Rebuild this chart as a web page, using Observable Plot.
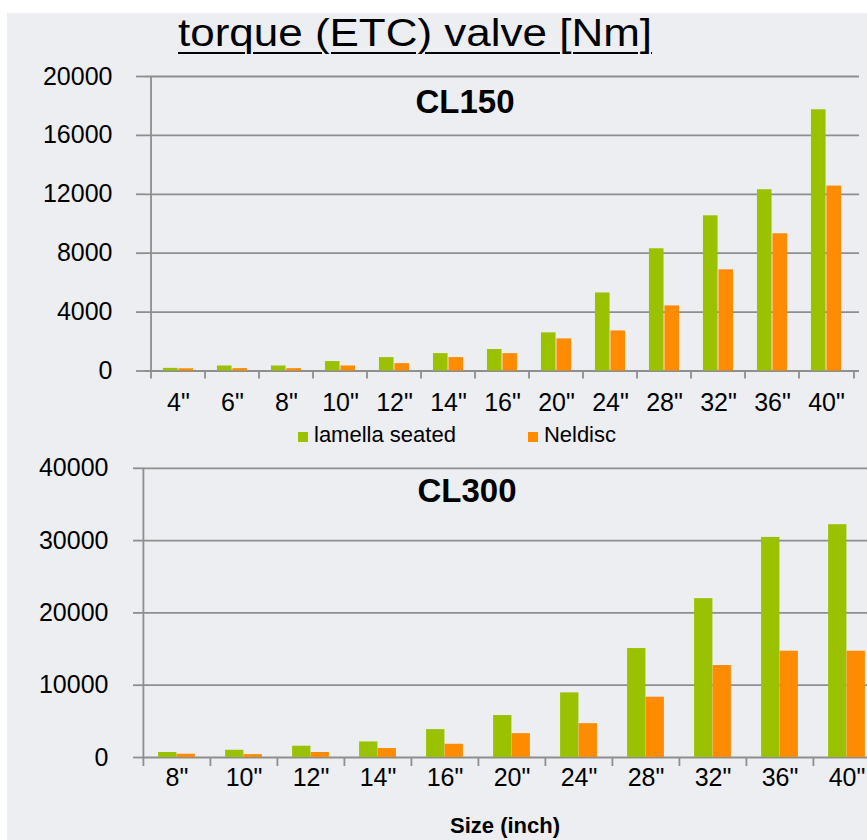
<!DOCTYPE html>
<html>
<head>
<meta charset="utf-8">
<script src="https://cdn.jsdelivr.net/npm/d3@7"></script>
<script src="https://cdn.jsdelivr.net/npm/@observablehq/plot@0.6"></script>
<style>
html, body { margin: 0; padding: 0; background: #fff; overflow: hidden; }
#wrap { position: relative; width: 867px; height: 840px; overflow: hidden; font-family: "Liberation Sans", Arial, sans-serif; color: #000; }
#panel { position: absolute; left: 7px; top: 13px; right: 0; bottom: 0; background: #eceef1; }
.abs { position: absolute; white-space: nowrap; }
#title { left: 178px; top: 14px; font-size: 38px; line-height: 38px; text-decoration: underline; text-decoration-thickness: 2px; text-underline-offset: 6px; transform: scaleX(1.157); transform-origin: 0 0; }
.sub { font-size: 33px; line-height: 33px; font-weight: bold; transform: translateX(-50%); }
#xlabel { left: 505px; top: 815px; font-size: 22px; line-height: 22px; font-weight: bold; transform: translateX(-50%); }
#legend { left: 298px; top: 424px; font-size: 22px; line-height: 22px; display: flex; align-items: baseline; }
.sw { display: inline-block; width: 10px; height: 10px; margin-right: 6px; }
#top, #bottom { position: absolute; left: 0; }
</style>
</head>
<body>
<div id="wrap">
  <div id="panel"></div>
  <div id="top"></div>
  <div id="bottom"></div>
  <div id="title" class="abs">torque (ETC) valve [Nm]</div>
  <div id="sub150" class="abs sub" style="left:465px;top:85px;">CL150</div>
  <div id="sub300" class="abs sub" style="left:467px;top:474px;">CL300</div>
  <div id="legend" class="abs"></div>
  <div id="xlabel" class="abs">Size (inch)</div>
</div>
<script>
// ---- data ----
const seriesNames = ["lamella seated", "Neldisc"];
const seriesColors = ["#9ac200", "#ff8c00"];

const sizes150 = ['4"', '6"', '8"', '10"', '12"', '14"', '16"', '20"', '24"', '28"', '32"', '36"', '40"'];
const lamella150 = [180, 340, 340, 640, 910, 1180, 1460, 2590, 5300, 8300, 10540, 12310, 17740];
const neldisc150 = [150, 160, 160, 340, 500, 910, 1180, 2180, 2720, 4420, 6870, 9320, 12560];
const yTicks150 = [0, 4000, 8000, 12000, 16000, 20000];

const sizes300 = ['8"', '10"', '12"', '14"', '16"', '20"', '24"', '28"', '32"', '36"', '40"'];
const lamella300 = [690, 1000, 1560, 2150, 3860, 5800, 8940, 15070, 21970, 30440, 32200];
const neldisc300 = [450, 400, 690, 1240, 1830, 3300, 4680, 8340, 12720, 14700, 14700];
const yTicks300 = [0, 10000, 20000, 30000, 40000];

const gridColor = "#8e8e8e";

function makeChart(o) {
  const rows = [];
  o.sizes.forEach((s, i) => {
    rows.push({size: s, series: seriesNames[0], value: o.lam[i]});
    rows.push({size: s, series: seriesNames[1], value: o.nel[i]});
  });
  const step = (o.width - o.marginLeft - o.marginRight) / o.sizes.length;
  const inner = (step - 2 * o.barW) / 2;
  const yMax = o.yTicks[o.yTicks.length - 1];
  return Plot.plot({
    width: o.width,
    height: o.height,
    marginLeft: o.marginLeft,
    marginRight: o.marginRight,
    marginTop: o.marginTop,
    marginBottom: o.marginBottom,
    style: {background: "transparent", maxWidth: "none", fontFamily: "Liberation Sans, Arial, sans-serif", fontSize: "25px", color: "#000", overflow: "visible"},
    x: {domain: o.sizes, padding: 0, label: null},
    y: {domain: [0, yMax], label: null},
    marks: [
      Plot.gridY(o.yTicks, {stroke: gridColor, strokeOpacity: 1, strokeWidth: 1.8}),
      Plot.axisY(o.yTicks, {tickSize: o.yTickSize, tickPadding: o.yTickPad, tickFormat: d => String(d), stroke: gridColor, strokeWidth: 1.8, fill: "#000", fontSize: 25, label: null}),
      Plot.ruleX([o.sizes[0]], {dx: -step / 2, y1: 0, y2: yMax, stroke: gridColor, strokeWidth: 1.8}),
      Plot.barY(rows.filter(d => d.series === seriesNames[0]), {x: "size", y: "value", fill: seriesColors[0], insetLeft: inner, insetRight: inner + o.barW}),
      Plot.barY(rows.filter(d => d.series === seriesNames[1]), {x: "size", y: "value", fill: seriesColors[1], insetLeft: inner + o.barW, insetRight: inner}),
      Plot.axisX(o.sizes, {tickSize: o.xTickSize, dx: -step / 2, fill: "none", stroke: gridColor, strokeWidth: 1.8, label: null}),
      Plot.axisX([o.sizes[o.sizes.length - 1]], {tickSize: o.xTickSize, dx: step / 2, fill: "none", stroke: gridColor, strokeWidth: 1.8, label: null}),
      Plot.axisX(o.sizes, {tickSize: 0, tickPadding: o.xLabelPad, fill: "#000", fontSize: 25, label: null})
    ]
  });
}

const topChart = makeChart({
  sizes: sizes150, lam: lamella150, nel: neldisc150, yTicks: yTicks150,
  width: 867, height: 430, marginLeft: 145, marginRight: 8, marginTop: 76, marginBottom: 59.5,
  barW: 15.5, yTickSize: 9, yTickPad: 24, xTickSize: 8, xLabelPad: 22
});
document.getElementById("top").style.top = "0px";
document.getElementById("top").appendChild(topChart);

const bottomChart = makeChart({
  sizes: sizes300, lam: lamella300, nel: neldisc300, yTicks: yTicks300,
  width: 890, height: 400, marginLeft: 142, marginRight: 9, marginTop: 27.8, marginBottom: 83,
  barW: 18.5, yTickSize: 9, yTickPad: 25, xTickSize: 9, xLabelPad: 11
});
document.getElementById("bottom").style.top = "440px";
document.getElementById("bottom").appendChild(bottomChart);

// legend
const legend = document.getElementById("legend");
seriesNames.forEach((name, i) => {
  const item = document.createElement("span");
  item.style.display = "inline-flex";
  item.style.alignItems = "baseline";
  item.style.marginRight = i === 0 ? "72px" : "0";
  const sw = document.createElement("span");
  sw.className = "sw";
  sw.style.background = seriesColors[i];
  item.appendChild(sw);
  item.appendChild(document.createTextNode(name));
  legend.appendChild(item);
});
</script>
</body>
</html>
